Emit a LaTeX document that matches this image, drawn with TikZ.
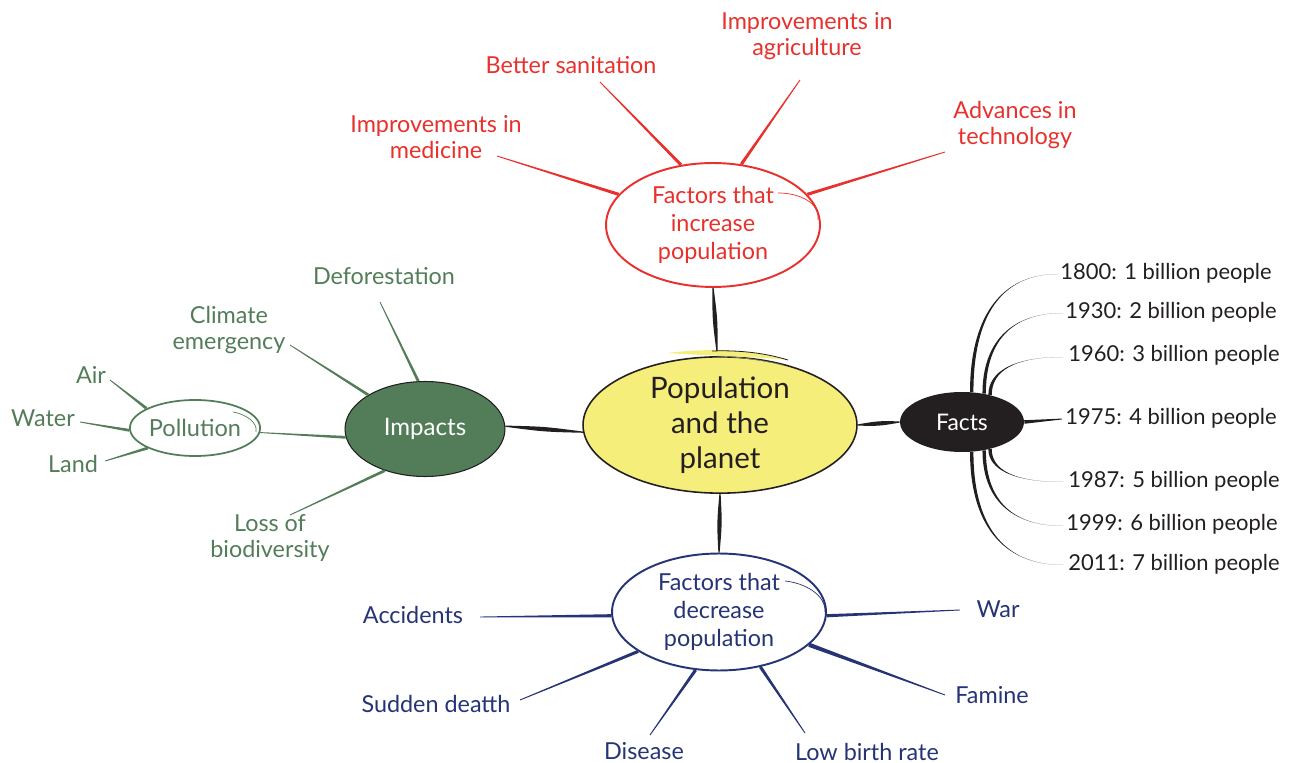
\documentclass[tikz,border=0pt]{standalone}
\usepackage{fontspec}
\setmainfont{Lato}
\usetikzlibrary{shapes.geometric,calc}
\definecolor{cred}{RGB}{232,48,44}
\definecolor{cgreen}{RGB}{82,125,88}
\definecolor{cnavy}{RGB}{38,52,118}
\definecolor{cyel}{RGB}{245,238,122}
\definecolor{cdark}{RGB}{35,31,32}
\definecolor{cflick}{RGB}{150,145,110}
% tapered straight connector: style, from, to, half width at start
\newcommand\tp[4]{\fill[#1] ($(#2)!#4!90:(#3)$) -- ($(#3)!0.25pt!-90:(#2)$) -- ($(#3)!0.25pt!90:(#2)$) -- ($(#2)!#4!-90:(#3)$) -- cycle;}
% spindle connector: thick in the middle, thin at both ends
\newcommand\spd[3]{\fill[cdark] ($(#1)!0.35pt!90:(#2)$) .. controls ($(#1)!0.5!(#2)!#3!90:(#2)$) .. ($(#2)!0.35pt!-90:(#1)$) -- ($(#2)!0.35pt!90:(#1)$) .. controls ($(#1)!0.5!(#2)!#3!-90:(#2)$) .. ($(#1)!0.35pt!-90:(#2)$) -- cycle;}
% tapered curved connector for the facts
\newcommand\fc[2]{\fill[cdark] ($(#1)+(-1.7,0)$) .. controls ($(#1)!0.62!(#1|-#2)+(-1.7,0)$) and ($(#1|-#2)!0.32!(#2)$) .. (#2) .. controls ($(#1|-#2)!0.32!(#2)$) and ($(#1)!0.62!(#1|-#2)+(1.7,0)$) .. ($(#1)+(1.7,0)$) -- cycle;}
\tikzset{
  lbl/.style={font=\fontsize{13.3}{14.8}\selectfont, align=center, inner sep=0pt},
  rlbl/.style={lbl, text=cred},
  glbl/.style={lbl, text=cgreen},
  nlbl/.style={lbl, text=cnavy},
  flbl/.style={font=\fontsize{12.5}{15}\selectfont, text=cdark, anchor=west, inner sep=0pt},
  bub/.style={ellipse, inner sep=0pt, align=center},
}
\begin{document}
\begin{tikzpicture}[x=0.02cm,y=-0.02cm]
\useasboundingbox (0,0) rectangle (1303,763);

% bubbles
\node[bub, draw=cdark, line width=0.9pt, fill=cyel, minimum width=5.48cm, minimum height=2.72cm,
      font=\fontsize{16.8}{19.8}\selectfont, text=cdark] (main) at (720,425) {Population\\and the\\planet};
\node[bub, draw=cred, line width=1.1pt, fill=white, minimum width=4.28cm, minimum height=2.48cm,
      font=\fontsize{13.3}{15.9}\selectfont, text=cred] (inc) at (713,225) {Factors that\\increase\\population};
\node[bub, draw=cnavy, line width=1.1pt, fill=white, minimum width=4.28cm, minimum height=2.34cm,
      font=\fontsize{13.3}{15.9}\selectfont, text=cnavy] (dec) at (719,612) {Factors that\\decrease\\population};
\node[bub, draw=cdark, line width=0.6pt, fill=cgreen, minimum width=3.2cm, minimum height=1.9cm,
      font=\fontsize{13.7}{16}\selectfont, text=white] (imp) at (425,429) {Impacts};
\node[bub, fill=cdark, minimum width=2.48cm, minimum height=1.2cm,
      font=\fontsize{13}{16}\selectfont, text=white] (facts) at (962,422) {Facts};
\node[bub, draw=cgreen, line width=1pt, fill=white, minimum width=2.52cm, minimum height=1.12cm,
      font=\fontsize{13.4}{16}\selectfont, text=cgreen] (pol) at (195,428) {Pollution};

% hand-drawn flicks
\draw[cred, line width=0.4pt] (778,193) .. controls (800,193) and (820,203) .. (818,220);
\draw[cnavy, line width=0.4pt] (785,581) .. controls (805,583) and (826,595) .. (825,612);
\draw[cgreen, line width=0.4pt] (233,412) .. controls (245,414) and (258,422) .. (256,432);
\fill[cyel] (667,353) .. controls (710,348) and (750,349) .. (788,360) .. controls (750,356) and (710,356) .. (667,353);
\draw[cdark, line width=0.45pt] (712,351) .. controls (740,350) and (765,353) .. (788,360);
\draw[cflick, line width=0.35pt] (717,356) .. controls (740,357) and (762,360) .. (782,365);

% labels: increase
\node[rlbl] (med) at (436,137) {Improvements in\\medicine};
\node[rlbl] (san) at (571,65) {Better sanitation};
\node[rlbl] (agr) at (807,36) {Improvements in\\agriculture};
\node[rlbl] (tech) at (1015,125) {Advances in\\technology};
\coordinate (emed) at (497,156);
\coordinate (esan) at (600,82);
\coordinate (eagr) at (800,80);
\coordinate (etech) at (945,152);

% labels: impacts
\node[glbl] (defo) at (384,276) {Deforestation};
\node[glbl] (clim) at (229,330) {Climate\\emergency};
\node[glbl] (bio) at (270,538) {Loss of\\biodiversity};
\node[glbl] (air) at (91,375) {Air};
\node[glbl] (water) at (43,418) {Water};
\node[glbl] (land) at (73,464) {Land};
\coordinate (edefo) at (380,302);
\coordinate (eclim) at (290,345);
\coordinate (ebio) at (290,515);
\coordinate (eair) at (110,380);
\coordinate (ewater) at (80,422);
\coordinate (eland) at (105,461);

% labels: decrease
\node[nlbl] (acc) at (413,615) {Accidents};
\node[nlbl] (sud) at (436,704) {Sudden deatth};
\node[nlbl] (dis) at (644,751) {Disease};
\node[nlbl] (low) at (867,752) {Low birth rate};
\node[nlbl] (fam) at (992,695) {Famine};
\node[nlbl] (war) at (998,609) {War};
\coordinate (eacc) at (480,617);
\coordinate (esud) at (520,700);
\coordinate (edis) at (650,735);
\coordinate (elow) at (805,733);
\coordinate (efam) at (945,695);
\coordinate (ewar) at (960,610);

% labels: facts
\node[flbl] (f1) at (1060,273) {1800: 1 billion people};
\node[flbl] (f2) at (1065,312) {1930: 2 billion people};
\node[flbl] (f3) at (1068,355) {1960: 3 billion people};
\node[flbl] (f4) at (1065,418) {1975: 4 billion people};
\node[flbl] (f5) at (1068,481) {1987: 5 billion people};
\node[flbl] (f6) at (1066,524) {1999: 6 billion people};
\node[flbl] (f7) at (1068,564) {2011: 7 billion people};
\coordinate (e1) at (1058,274);
\coordinate (e2) at (1063,313);
\coordinate (e3) at (1063,357);
\coordinate (e4) at (1062,419);
\coordinate (e5) at (1063,482);
\coordinate (e6) at (1063,526);
\coordinate (e7) at (1063,565);

% main connectors
\coordinate (mtop) at (717,351);
\spd{mtop}{inc.270}{1.5pt}
\spd{main.270}{dec.90}{1.5pt}
\spd{main.183}{imp.2}{1.5pt}
\spd{main.0}{facts.180}{1.5pt}

% increase connectors
\tp{cred}{inc.162}{emed}{0.9pt}
\tp{cred}{inc.118}{esan}{0.9pt}
\tp{cred}{inc.65}{eagr}{0.9pt}
\tp{cred}{inc.18}{etech}{0.9pt}

% impacts connectors
\tp{cgreen}{imp.98}{edefo}{0.8pt}
\tp{cgreen}{imp.149}{eclim}{0.8pt}
\tp{cgreen}{imp.186}{pol.356}{0.8pt}
\tp{cgreen}{imp.226}{ebio}{0.8pt}
\tp{cgreen}{pol.158}{eair}{0.8pt}
\tp{cgreen}{pol.182}{ewater}{0.8pt}
\tp{cgreen}{pol.203}{eland}{0.8pt}

% decrease connectors
\tp{cnavy}{dec.182}{eacc}{0.9pt}
\tp{cnavy}{dec.206}{esud}{0.9pt}
\tp{cnavy}{dec.248}{edis}{0.9pt}
\tp{cnavy}{dec.307}{elow}{0.9pt}
\tp{cnavy}{dec.340}{efam}{1.2pt}
\tp{cnavy}{dec.358}{ewar}{0.9pt}

% facts connectors
\coordinate (s1) at (facts.72);
\coordinate (s2) at (facts.52);
\coordinate (s3) at (facts.44);
\coordinate (s5) at (facts.316);
\coordinate (s6) at (facts.308);
\coordinate (s7) at (facts.288);
\fc{s1}{e1}
\fc{s2}{e2}
\fc{s3}{e3}
\tp{cdark}{facts.0}{e4}{1pt}
\fc{s5}{e5}
\fc{s6}{e6}
\fc{s7}{e7}
\end{tikzpicture}
\end{document}
